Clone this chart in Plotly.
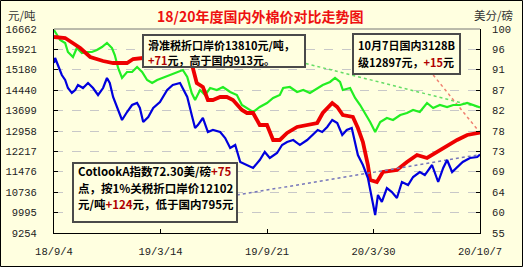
import pandas as pd
import plotly.graph_objects as go

START = "2018-09-04"
END = "2020-10-07"

# ---- data (days since 2018-09-04, values) ----
red_days = [0, 20, 47, 65, 88, 106, 131, 142, 160, 181, 208, 235, 244, 249, 256, 267, 276, 285, 298, 310,
            321, 337, 346, 357, 369, 382, 393, 405, 418, 436, 454, 472, 482, 499, 508, 518, 536, 545, 554,
            563, 567, 579, 590, 615, 633, 651, 669, 698, 723, 741, 764]
red_vals = [16372, 16335, 15972, 15645, 15500, 15427, 15427, 15573, 15609, 15645, 15682, 15609, 15464, 15246,
            14701, 14556, 14084, 14084, 14193, 14193, 14084, 13721, 13612, 13612, 13176, 13176, 12632, 12632,
            12886, 13104, 13176, 13249, 13612, 13975, 13830, 13539, 13467, 13067, 12559, 11724, 11179, 11107,
            11470, 11542, 11833, 12087, 11978, 12341, 12632, 12813, 12897]

green_days = [0, 5, 11, 20, 25, 34, 41, 50, 59, 68, 77, 86, 95, 104, 109, 115, 122, 131, 140, 149, 158, 167,
              176, 185, 195, 208, 221, 231, 239, 247, 253, 262, 271, 280, 292, 303, 316, 328, 337, 346, 357,
              369, 382, 393, 405, 411, 423, 436, 447, 459, 472, 482, 495, 504, 513, 518, 531, 540, 549, 558,
              567, 576, 585, 597, 608, 621, 633, 644, 656, 669, 680, 692, 705, 716, 728, 741, 751, 764]
green_vals = [16626, 16444, 16263, 16154, 15827, 15645, 15972, 15791, 15827, 15827, 15899, 16008, 16154, 15972,
              15718, 15246, 14883, 15101, 15101, 15282, 15101, 14810, 14701, 14810, 14883, 14992, 15101, 15173,
              14919, 14338, 14084, 14447, 14266, 14520, 14447, 14556, 14374, 14266, 13902, 13793, 13648, 13830,
              13975, 14157, 14266, 14520, 14556, 14374, 14447, 14338, 14520, 14629, 14738, 14883, 14738, 14447,
              14520, 14157, 13902, 13612, 13285, 12922, 13285, 13430, 13358, 13539, 13612, 13721, 13648, 13975,
              13793, 13902, 13830, 13902, 13902, 13975, 13902, 13810]

blue_days = [0, 2, 7, 14, 20, 25, 32, 38, 43, 52, 61, 70, 79, 88, 95, 100, 106, 113, 122, 131, 140, 149, 154,
             160, 169, 178, 190, 203, 213, 226, 239, 247, 253, 258, 267, 276, 285, 298, 307, 316, 325, 334,
             346, 357, 369, 378, 387, 400, 409, 418, 429, 441, 454, 464, 473, 481, 490, 499, 508, 517, 525,
             534, 540, 545, 554, 563, 570, 576, 581, 588, 597, 606, 615, 624, 635, 644, 656, 665, 678, 689,
             698, 705, 714, 723, 733, 746, 759, 764]
blue_vals = [92.50, 93.60, 92.06, 89.85, 88.75, 86.98, 85.88, 86.54, 87.65, 86.98, 88.09, 86.98, 85.44, 86.98,
             89.19, 88.09, 85.00, 82.57, 79.93, 81.69, 83.23, 83.68, 82.57, 79.48, 80.59, 82.57, 83.90, 86.54,
             87.65, 88.09, 85.00, 81.03, 78.16, 78.82, 80.37, 77.28, 77.72, 77.28, 75.95, 73.75, 74.41, 70.66,
             70.00, 69.34, 71.10, 72.87, 71.54, 72.65, 74.41, 75.07, 75.51, 74.41, 75.51, 76.62, 77.72, 77.28,
             78.38, 79.93, 79.26, 76.62, 77.72, 78.16, 75.07, 72.20, 70.00, 67.13, 62.72, 58.97, 63.38, 61.84,
             64.92, 64.04, 62.72, 66.25, 65.59, 67.35, 68.45, 67.79, 70.00, 66.25, 69.34, 71.10, 68.45, 69.56,
             70.66, 71.54, 71.76, 72.30]

# leader (dotted) lines: [start day, end day], [start value, end value]
green_lead_days = [441, 764]
green_lead_vals = [15464, 13810]
red_lead_days = [680, 764]
red_lead_vals = [14992, 12897]
blue_lead_days = [328, 764]
blue_lead_vals = [63.38, 72.30]

left_ticks = [9254, 9995, 10736, 11476, 12217, 12958, 13699, 14440, 15180, 15921, 16662]
left_ticktext = ["9254", "9995", "10736", "11476", "12217", "12958", "13699", "14440", "15180", "15921", "16662"]
right_ticks = [55, 59.5, 64, 68.5, 73, 77.5, 82, 86.5, 91, 95.5, 100]
right_ticktext = ["55", "60", "64", "69", "73", "78", "82", "87", "91", "96", "100"]
x_tick_dates = ["2018-09-04", "2019-03-14", "2019-09-21", "2020-03-30", "2020-10-07"]
x_tick_text = ["18/9/4", "19/3/14", "19/9/21", "20/3/30", "20/10/7"]


def to_dates(days):
    return pd.Timestamp(START) + pd.to_timedelta(days, unit="D")


BG = "#ffffe0"
fig = go.Figure()

fig.add_trace(go.Scatter(x=to_dates(green_lead_days), y=green_lead_vals, mode="lines",
                         line=dict(color="#66dd66", width=1.5, dash="dot"), hoverinfo="skip"))
fig.add_trace(go.Scatter(x=to_dates(red_lead_days), y=red_lead_vals, mode="lines",
                         line=dict(color="#f08070", width=1.5, dash="dot"), hoverinfo="skip"))
fig.add_trace(go.Scatter(x=to_dates(blue_lead_days), y=blue_lead_vals, mode="lines", yaxis="y2",
                         line=dict(color="#7777bb", width=1.5, dash="dot"), hoverinfo="skip"))

fig.add_trace(go.Scatter(x=to_dates(green_days), y=green_vals, mode="lines",
                         line=dict(color="#22ee22", width=2.2)))
fig.add_trace(go.Scatter(x=to_dates(blue_days), y=blue_vals, mode="lines", yaxis="y2",
                         line=dict(color="#0000dd", width=2.2)))
fig.add_trace(go.Scatter(x=to_dates(red_days), y=red_vals, mode="lines",
                         line=dict(color="#ee0000", width=3.8)))

tickfont = dict(family="Liberation Mono", size=10.5, color="#222")

fig.update_layout(
    width=523, height=267,
    margin=dict(l=54, r=43, t=29, b=34, autoexpand=False),
    paper_bgcolor=BG, plot_bgcolor=BG,
    showlegend=False,
    xaxis=dict(type="date", range=[START, END], tickvals=x_tick_dates, ticktext=x_tick_text, automargin=False,
               ticks="inside", ticklen=4, tickcolor="#000", showgrid=False, zeroline=False,
               showline=True, linecolor="#000", linewidth=1, tickfont=tickfont, ticklabelstandoff=8),
    yaxis=dict(range=[9254, 16662], tickvals=left_ticks, ticktext=left_ticktext, automargin=False,
               ticks="inside", ticklen=4, tickcolor="#000",
               showgrid=True, gridcolor="#c8c8c8", griddash="dash", gridwidth=1, zeroline=False,
               showline=True, linecolor="#000", linewidth=1, tickfont=tickfont, ticklabelstandoff=14),
    yaxis2=dict(range=[55, 100], tickvals=right_ticks, ticktext=right_ticktext, overlaying="y", side="right",
                automargin=False, ticks="inside", ticklen=4, tickcolor="#000", showgrid=False, zeroline=False,
                showline=True, linecolor="#000", linewidth=1, tickfont=tickfont, ticklabelstandoff=9),
)

PW, PH = 426.0, 204.0


def px(xp):
    return (xp - 54) / PW


def py(yp):
    return 1 - (yp - 29) / PH


# top frame line and outer border
fig.add_shape(type="line", xref="paper", yref="paper", x0=0, x1=1, y0=1, y1=1,
              line=dict(color="#777", width=1))
fig.add_shape(type="rect", xref="paper", yref="paper", x0=px(0.5), x1=px(522.5), y0=py(266.5), y1=py(0.5),
              line=dict(color="#000", width=1), layer="above")

fig.add_annotation(xref="paper", yref="paper", x=px(260), y=py(16), xanchor="center", yanchor="middle",
                   showarrow=False, text="<b>18/20年度国内外棉价对比走势图</b>",
                   font=dict(family="Noto Sans CJK SC", size=14, color="#ee1111"))
fig.add_annotation(xref="paper", yref="paper", x=px(22), y=py(15), xanchor="center", yanchor="middle",
                   showarrow=False, text="元/吨",
                   font=dict(family="Noto Sans CJK SC", size=11.5, color="#333"))
fig.add_annotation(xref="paper", yref="paper", x=px(493), y=py(15), xanchor="center", yanchor="middle",
                   showarrow=False, text="美分/磅",
                   font=dict(family="Noto Sans CJK SC", size=11.5, color="#333"))

DR = "#b00000"


def box(x0, y0, x1, y1, lines, size, first_y, pitch):
    fig.add_shape(type="rect", xref="paper", yref="paper", x0=px(x0), x1=px(x1), y0=py(y1), y1=py(y0),
                  fillcolor=BG, line=dict(color="#4a4a4a", width=2), layer="above")
    for i, t in enumerate(lines):
        fig.add_annotation(xref="paper", yref="paper", x=px(x0 + 3), y=py(first_y + i * pitch),
                           xanchor="left", yanchor="middle", showarrow=False, text="<b>%s</b>" % t,
                           font=dict(family="Noto Sans CJK SC", size=size, color="#000"))


box(143, 35, 305, 67,
    ["滑准税折口岸价13810元/吨，",
     "<span style='color:%s'>+71</span>元，高于国内913元。" % DR],
    11, 45, 14.5)
box(353, 34, 460, 74,
    ["10月7日国内3128B",
     "级12897元，<span style='color:%s'>+15</span>元" % DR],
    11, 45, 16.5)
box(73, 163, 237, 222,
    ["CotlookA指数72.30美/磅<span style='color:%s'>+75</span>" % DR,
     "点，按1%关税折口岸价12102",
     "元/吨<span style='color:%s'>+124</span>元，低于国内795元" % DR],
    11.5, 171, 16.5)

fig.write_html("out.html")
